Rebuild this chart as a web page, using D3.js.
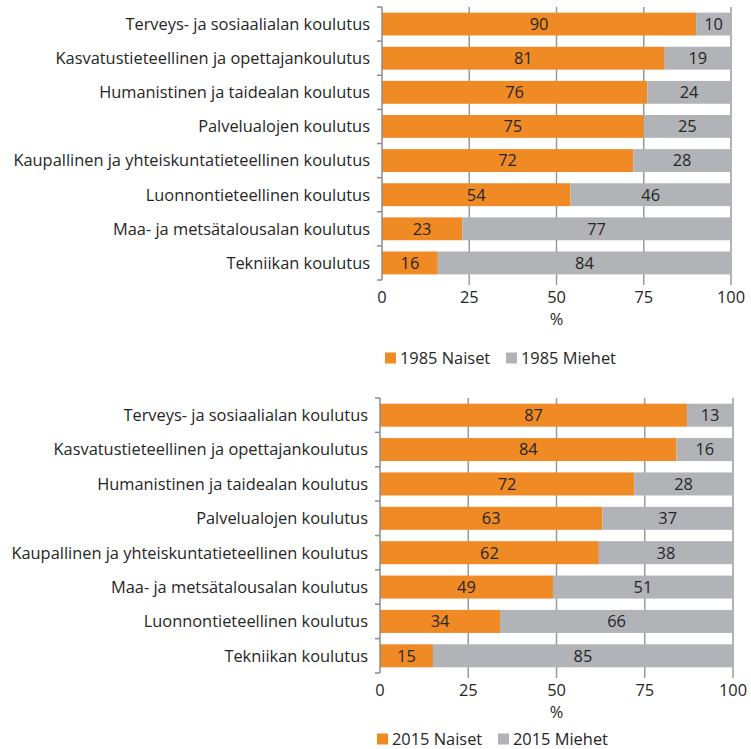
<!DOCTYPE html>
<html>
<head>
<meta charset="utf-8">
<script src="https://cdn.jsdelivr.net/npm/d3@7"></script>
<style>
	body { margin: 0; background: #fff; }
	svg { font-family: "Open Sans", "Noto Sans", sans-serif; }
</style>
</head>
<body>
<div id="chart"></div>
<script>
// data
var categories1985 = ["Terveys- ja sosiaalialan koulutus", "Kasvatustieteellinen ja opettajankoulutus",
	"Humanistinen ja taidealan koulutus", "Palvelualojen koulutus",
	"Kaupallinen ja yhteiskuntatieteellinen koulutus", "Luonnontieteellinen koulutus",
	"Maa- ja metsätalousalan koulutus", "Tekniikan koulutus"];
var naiset1985 = [90, 81, 76, 75, 72, 54, 23, 16];
var miehet1985 = [10, 19, 24, 25, 28, 46, 77, 84];

var categories2015 = ["Terveys- ja sosiaalialan koulutus", "Kasvatustieteellinen ja opettajankoulutus",
	"Humanistinen ja taidealan koulutus", "Palvelualojen koulutus",
	"Kaupallinen ja yhteiskuntatieteellinen koulutus", "Maa- ja metsätalousalan koulutus",
	"Luonnontieteellinen koulutus", "Tekniikan koulutus"];
var naiset2015 = [87, 84, 72, 63, 62, 49, 34, 15];
var miehet2015 = [13, 16, 28, 37, 38, 51, 66, 85];

var xTicks = [0, 25, 50, 75, 100];
var seriesNames1985 = ["1985 Naiset", "1985 Miehet"];
var seriesNames2015 = ["2015 Naiset", "2015 Miehet"];

var colors = ["#F08A24", "#B1B3B6"];
var fs = 16.4;

var svg = d3.select("#chart").append("svg")
	.attr("width", 751)
	.attr("height", 749);

function drawChart(cats, women, men, names, box) {
	// box: left, right, top, bottom, tickY, pctY, legendY, legendX
	var g = svg.append("g");
	var x = d3.scaleLinear().domain([0, 100]).range([box.left, box.right]);
	var y = d3.scaleBand().domain(cats).range([box.top, box.bottom]).paddingInner(0.33).paddingOuter(0.165);

	// gridlines
	g.selectAll(".grid")
		.data(xTicks.slice(1))
		.enter().append("line")
		.attr("x1", function(d){return x(d);})
		.attr("x2", function(d){return x(d);})
		.attr("y1", box.top)
		.attr("y2", box.bottom + 5)
		.attr("stroke", "#9a9a9a")
		.attr("stroke-width", 1.5);

	var rows = cats.map(function(c, i){ return {cat: c, w: women[i], m: men[i]}; });

	// women
	g.selectAll(".barW")
		.data(rows).enter().append("rect")
		.attr("x", x(0))
		.attr("y", function(d){return y(d.cat);})
		.attr("width", function(d){return x(d.w) - x(0);})
		.attr("height", y.bandwidth())
		.attr("fill", colors[0]);
	// men
	g.selectAll(".barM")
		.data(rows).enter().append("rect")
		.attr("x", function(d){return x(d.w);})
		.attr("y", function(d){return y(d.cat);})
		.attr("width", function(d){return x(d.w + d.m) - x(d.w);})
		.attr("height", y.bandwidth())
		.attr("fill", colors[1]);

	// value labels
	rows.forEach(function(d){
		var cy = y(d.cat) + y.bandwidth() / 2;
		g.append("text")
			.attr("x", (x(0) + x(d.w)) / 2)
			.attr("y", cy)
			.attr("dy", "0.36em")
			.attr("text-anchor", "middle")
			.attr("font-size", fs)
			.attr("fill", "#262626")
			.text(d.w);
		g.append("text")
			.attr("x", (x(d.w) + x(d.w + d.m)) / 2)
			.attr("y", cy)
			.attr("dy", "0.36em")
			.attr("text-anchor", "middle")
			.attr("font-size", fs)
			.attr("fill", "#262626")
			.text(d.m);
	});

	// y axis line + ticks at band edges
	g.append("line")
		.attr("x1", box.left).attr("x2", box.left)
		.attr("y1", box.top).attr("y2", box.bottom)
		.attr("stroke", "#8c8c8c").attr("stroke-width", 1.5);
	var step = (box.bottom - box.top) / cats.length;
	d3.range(cats.length + 1).forEach(function(i){
		g.append("line")
			.attr("x1", box.left - 5).attr("x2", box.left)
			.attr("y1", box.top + i * step).attr("y2", box.top + i * step)
			.attr("stroke", "#8c8c8c").attr("stroke-width", 1.5);
	});

	// category labels
	g.selectAll(".cat")
		.data(cats).enter().append("text")
		.attr("x", box.left - 12)
		.attr("y", function(d){return y(d) + y.bandwidth() / 2;})
		.attr("dy", "0.36em")
		.attr("text-anchor", "end")
		.attr("font-size", fs)
		.attr("fill", "#262626")
		.text(function(d){return d;});

	// x tick labels
	g.selectAll(".tick")
		.data(xTicks).enter().append("text")
		.attr("x", function(d){return x(d);})
		.attr("y", box.tickY)
		.attr("dy", "0.36em")
		.attr("text-anchor", "middle")
		.attr("font-size", fs)
		.attr("fill", "#262626")
		.text(function(d){return d;});

	g.append("text")
		.attr("x", x(50))
		.attr("y", box.pctY)
		.attr("dy", "0.36em")
		.attr("text-anchor", "middle")
		.attr("font-size", fs)
		.attr("fill", "#262626")
		.text("%");

	// legend
	var lx = box.legendX;
	names.forEach(function(n, i){
		var ox = lx + i * 121;
		g.append("rect")
			.attr("x", ox).attr("y", box.legendY - 5.5)
			.attr("width", 11).attr("height", 11)
			.attr("fill", colors[i]);
		g.append("text")
			.attr("x", ox + 15)
			.attr("y", box.legendY)
			.attr("dy", "0.36em")
			.attr("font-size", fs)
			.attr("fill", "#262626")
			.text(n);
	});
}

drawChart(categories1985, naiset1985, miehet1985, seriesNames1985,
	{left: 382, right: 731, top: 7, bottom: 280, tickY: 297, pctY: 319, legendY: 358, legendX: 385});
drawChart(categories2015, naiset2015, miehet2015, seriesNames2015,
	{left: 380, right: 733, top: 398, bottom: 673, tickY: 690, pctY: 712, legendY: 739, legendX: 377});
</script>
</body>
</html>
